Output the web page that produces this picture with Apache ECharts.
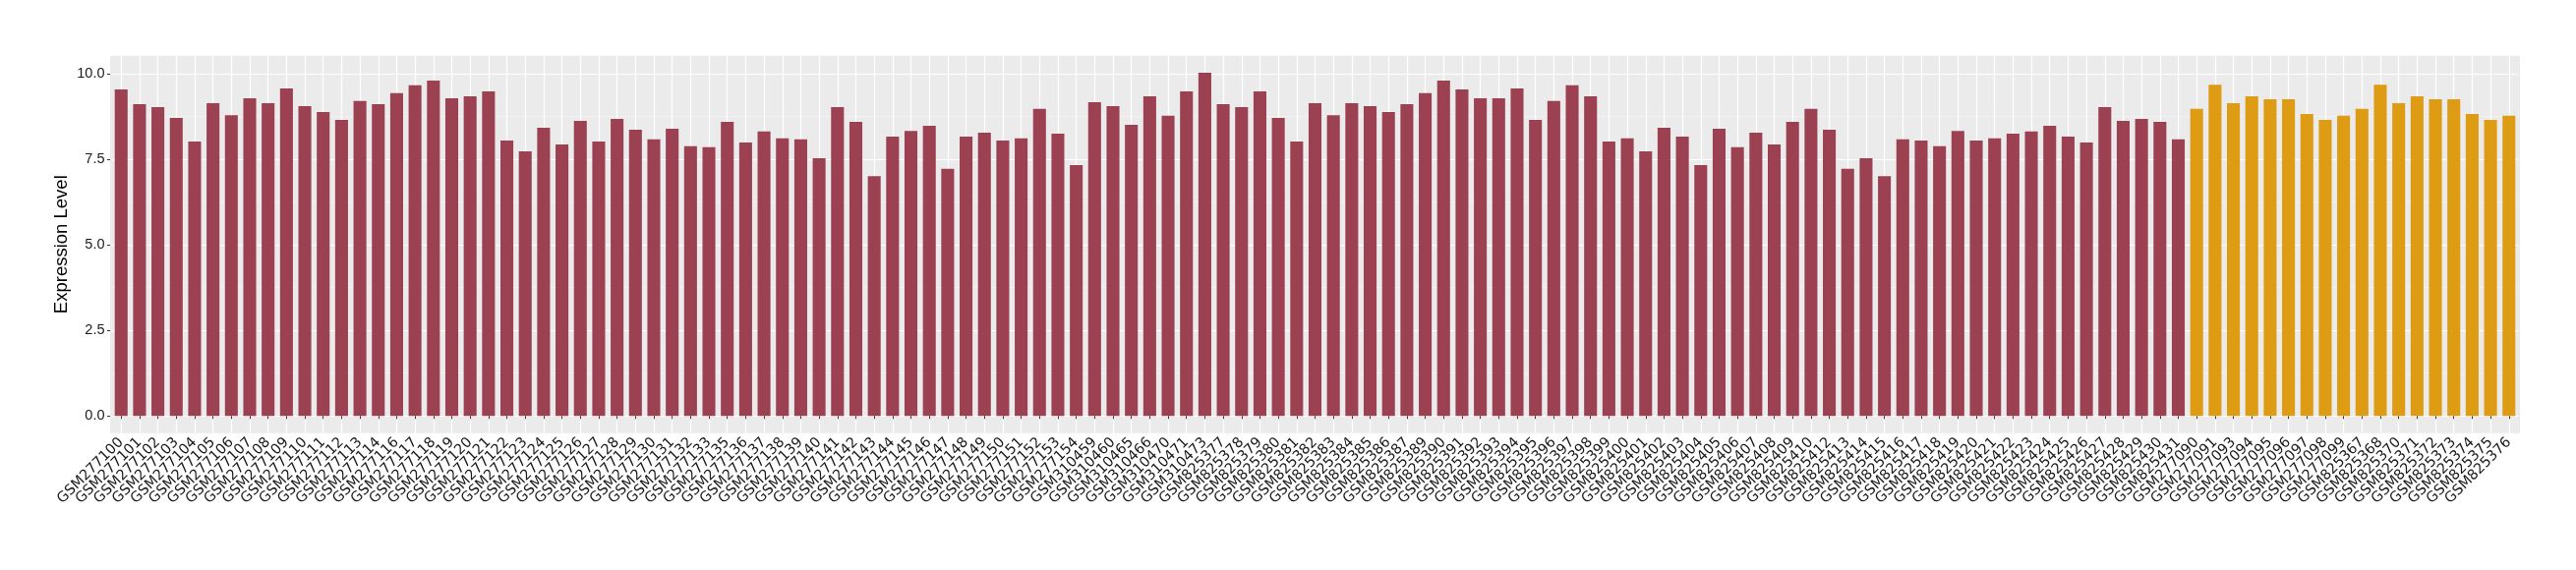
<!DOCTYPE html>
<html>
<head>
<meta charset="utf-8">
<script src="https://cdn.jsdelivr.net/npm/echarts@6/dist/echarts.min.js"></script>
<style>
  html, body { margin: 0; padding: 0; background: #fff; }
  #chart { width: 2620px; height: 580px; }
</style>
</head>
<body>
<div id="chart"></div>
<script>
// samples of the first group (dark red)
const groupASamples = [
  'GSM277100','GSM277101','GSM277102','GSM277103','GSM277104','GSM277105','GSM277106','GSM277107',
  'GSM277108','GSM277109','GSM277110','GSM277111','GSM277112','GSM277113','GSM277114','GSM277116',
  'GSM277117','GSM277118','GSM277119','GSM277120','GSM277121','GSM277122','GSM277123','GSM277124',
  'GSM277125','GSM277126','GSM277127','GSM277128','GSM277129','GSM277130','GSM277131','GSM277132',
  'GSM277133','GSM277135','GSM277136','GSM277137','GSM277138','GSM277139','GSM277140','GSM277141',
  'GSM277142','GSM277143','GSM277144','GSM277145','GSM277146','GSM277147','GSM277148','GSM277149',
  'GSM277150','GSM277151','GSM277152','GSM277153','GSM277154',
  'GSM310459','GSM310460','GSM310465','GSM310466','GSM310470','GSM310471','GSM310473',
  'GSM825377','GSM825378','GSM825379','GSM825380','GSM825381','GSM825382','GSM825383','GSM825384',
  'GSM825385','GSM825386','GSM825387','GSM825389','GSM825390','GSM825391','GSM825392','GSM825393',
  'GSM825394','GSM825395','GSM825396','GSM825397','GSM825398','GSM825399','GSM825400','GSM825401',
  'GSM825402','GSM825403','GSM825404','GSM825405','GSM825406','GSM825407','GSM825408','GSM825409',
  'GSM825410','GSM825412','GSM825413','GSM825414','GSM825415','GSM825416','GSM825417','GSM825418',
  'GSM825419','GSM825420','GSM825421','GSM825422','GSM825423','GSM825424','GSM825425','GSM825426',
  'GSM825427','GSM825428','GSM825429','GSM825430','GSM825431'
]
const groupAValues = [
  9.54, 9.11, 9.02, 8.71, 8.02, 9.14, 8.79, 9.28,
  9.14, 9.57, 9.05, 8.88, 8.65, 9.20, 9.11, 9.43,
  9.66, 9.80, 9.28, 9.34, 9.48, 8.05, 7.73, 8.42,
  7.93, 8.62, 8.02, 8.68, 8.36, 8.08, 8.39, 7.88,
  7.85, 8.59, 7.99, 8.31, 8.11, 8.08, 7.53, 9.02,
  8.59, 7.01, 8.16, 8.33, 8.48, 7.22, 8.16, 8.28,
  8.05, 8.11, 8.97, 8.25, 7.33,
  9.17, 9.05, 8.51, 9.34, 8.77, 9.48, 10.03,
  9.11, 9.02, 9.48, 8.71, 8.02, 9.14, 8.79, 9.14,
  9.05, 8.88, 9.11, 9.43, 9.80, 9.54, 9.28, 9.28,
  9.57, 8.65, 9.20, 9.66, 9.34, 8.02, 8.11, 7.73,
  8.42, 8.16, 7.33, 8.39, 7.85, 8.28, 7.93, 8.59,
  8.97, 8.36, 7.22, 7.53, 7.01, 8.08, 8.05, 7.88,
  8.33, 8.05, 8.11, 8.25, 8.31, 8.48, 8.16, 7.99,
  9.02, 8.62, 8.68, 8.59, 8.08
]

// samples of the second group (orange)
const groupBSamples = [
  'GSM277090','GSM277091','GSM277093','GSM277094','GSM277095','GSM277096','GSM277097','GSM277098',
  'GSM277099','GSM825367','GSM825368','GSM825370','GSM825371','GSM825372','GSM825373','GSM825374',
  'GSM825375','GSM825376'
]
const groupBValues = [
  8.97, 9.68, 9.14, 9.34, 9.25, 9.25, 8.82, 8.65,
  8.77, 8.97, 9.68, 9.14, 9.34, 9.25, 9.25, 8.82,
  8.65, 8.77
]

const majorTicks = [0, 2.5, 5, 7.5, 10]
const minorTicks = [1.25, 3.75, 6.25, 8.75]

const categories = groupASamples.concat(groupBSamples)
const seriesA = groupAValues.concat(groupBSamples.map(() => '-'))
const seriesB = groupASamples.map(() => '-').concat(groupBValues)

const chart = echarts.init(document.getElementById('chart'), null, { renderer: 'canvas' })

chart.setOption({
  animation: false,
  backgroundColor: '#fff',
  // ggplot panel is a bit wider than the category band (0.6 expand instead of 0.5)
  graphic: [{
    type: 'rect',
    z: -10,
    silent: true,
    shape: { x: 112, y: 56.7, width: 2451, height: 384 },
    style: { fill: '#EBEBEB' }
  }],
  grid: {
    left: 113.9,
    right: 58.9,
    top: 56.7,
    bottom: 139.3,
    containLabel: false
  },
  xAxis: {
    type: 'category',
    data: categories,
    axisLine: { show: false },
    axisTick: {
      show: true,
      alignWithLabel: true,
      length: 3,
      lineStyle: { color: '#333', width: 1 }
    },
    splitLine: {
      show: true,
      alignWithLabel: true,
      lineStyle: { color: '#fff', width: 1.2 }
    },
    axisLabel: {
      interval: 0,
      rotate: 45,
      margin: 7,
      fontFamily: 'DejaVu Sans',
      fontSize: 14.5,
      color: '#1a1a1a'
    }
  },
  yAxis: [{
    type: 'value',
    min: -0.5,
    max: 10.525,
    offset: 1.9,
    name: 'Expression Level',
    nameLocation: 'middle',
    nameGap: 40,
    nameMoveOverlap: false,
    nameRotate: 90,
    nameTextStyle: { fontFamily: 'Liberation Sans', fontSize: 18.5, color: '#000' },
    axisLine: { show: false },
    axisTick: {
      show: true,
      length: 3,
      customValues: majorTicks,
      lineStyle: { color: '#333', width: 1 }
    },
    axisLabel: {
      customValues: majorTicks,
      margin: 5.5,
      fontFamily: 'Liberation Sans',
      fontSize: 14.5,
      color: '#1a1a1a',
      formatter: v => v.toFixed(1)
    },
    splitLine: { show: true, lineStyle: { color: '#fff', width: 1.2 } }
  }, {
    // only for the thinner minor grid lines
    type: 'value',
    min: -0.5,
    max: 10.525,
    position: 'left',
    axisLine: { show: false },
    axisTick: { show: false, customValues: minorTicks },
    axisLabel: { show: false, customValues: minorTicks },
    splitLine: { show: true, lineStyle: { color: '#f7f7f7', width: 0.6 } }
  }],
  series: [{
    name: 'A',
    type: 'bar',
    data: seriesA,
    barWidth: '70%',
    barGap: '-100%',
    itemStyle: { color: '#9B4151' }
  }, {
    name: 'B',
    type: 'bar',
    data: seriesB,
    barWidth: '70%',
    barGap: '-100%',
    itemStyle: { color: '#DE9B14' }
  }]
})
</script>
</body>
</html>
